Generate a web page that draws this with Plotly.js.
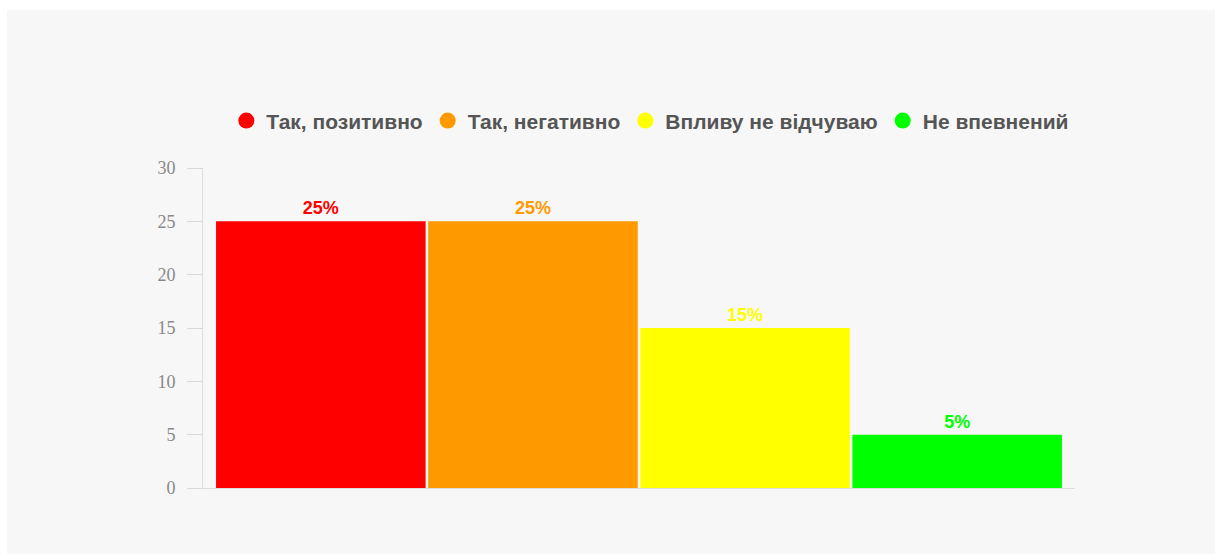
<!DOCTYPE html>
<html>
<head>
<meta charset="utf-8">
<script src="https://cdn.plot.ly/plotly-3.0.1.min.js"></script>
<style>
  html, body { margin: 0; padding: 0; background: #ffffff; width: 1215px; height: 554px; overflow: hidden; }
  #chart { position: absolute; left: 7px; top: 10px; width: 1208px; height: 544px; background: #f7f7f7; }
</style>
</head>
<body>
<div id="chart"></div>
<script>
const category = [""];
const seriesNames = ["Так, позитивно", "Так, негативно", "Впливу не відчуваю", "Не впевнений"];
const seriesValues = [25, 25, 15, 5];
const seriesLabels = ["25%", "25%", "15%", "5%"];
const seriesColors = ["#ff0000", "#ff9900", "#ffff00", "#00ff00"];
const yTicks = [0, 5, 10, 15, 20, 25, 30];

const traces = [];
seriesNames.forEach((name, i) => {
  traces.push({
    type: "bar",
    name: name,
    x: category,
    y: [seriesValues[i]],
    text: [seriesLabels[i]],
    textposition: "outside",
    cliponaxis: false,
    textfont: { family: "Liberation Sans, Arial, sans-serif", size: 18, color: seriesColors[i], weight: "bold" },
    marker: { color: seriesColors[i] },
    showlegend: false,
    hoverinfo: "none"
  });
});
seriesNames.forEach((name, i) => {
  traces.push({
    type: "scatter",
    mode: "markers",
    name: name,
    x: [null],
    y: [null],
    marker: { symbol: "circle", size: 21, color: seriesColors[i] },
    showlegend: true,
    hoverinfo: "none"
  });
});

const layout = {
  width: 1208,
  height: 544,
  paper_bgcolor: "rgba(0,0,0,0)",
  plot_bgcolor: "rgba(0,0,0,0)",
  margin: { l: 196, r: 140, t: 158, b: 66 },
  barmode: "group",
  bargap: 0.027,
  bargroupgap: 0.012,
  showlegend: true,
  legend: {
    orientation: "h",
    x: 0.513, xanchor: "center",
    y: 1.147, yanchor: "middle",
    font: { family: "Liberation Sans, Arial, sans-serif", size: 21, color: "#555555", weight: "bold" },
    itemwidth: 30,
    traceorder: "normal",
    tracegroupgap: 0
  },
  xaxis: {
    type: "category",
    showticklabels: false,
    showline: true,
    linecolor: "#dddddd",
    linewidth: 1,
    ticks: "",
    showgrid: false,
    zeroline: false,
    fixedrange: true
  },
  yaxis: {
    range: [0, 30],
    tickvals: yTicks,
    ticktext: yTicks.map(String),
    showline: true,
    linecolor: "#dddddd",
    linewidth: 1,
    ticks: "outside",
    ticklen: 15,
    tickcolor: "#d8d8d8",
    ticklabelstandoff: 8,
    showgrid: false,
    zeroline: false,
    tickfont: { family: "Liberation Serif, Times New Roman, serif", size: 18, color: "#888888" },
    fixedrange: true
  }
};

Plotly.newPlot("chart", traces, layout, { staticPlot: true, displayModeBar: false });
</script>
</body>
</html>
